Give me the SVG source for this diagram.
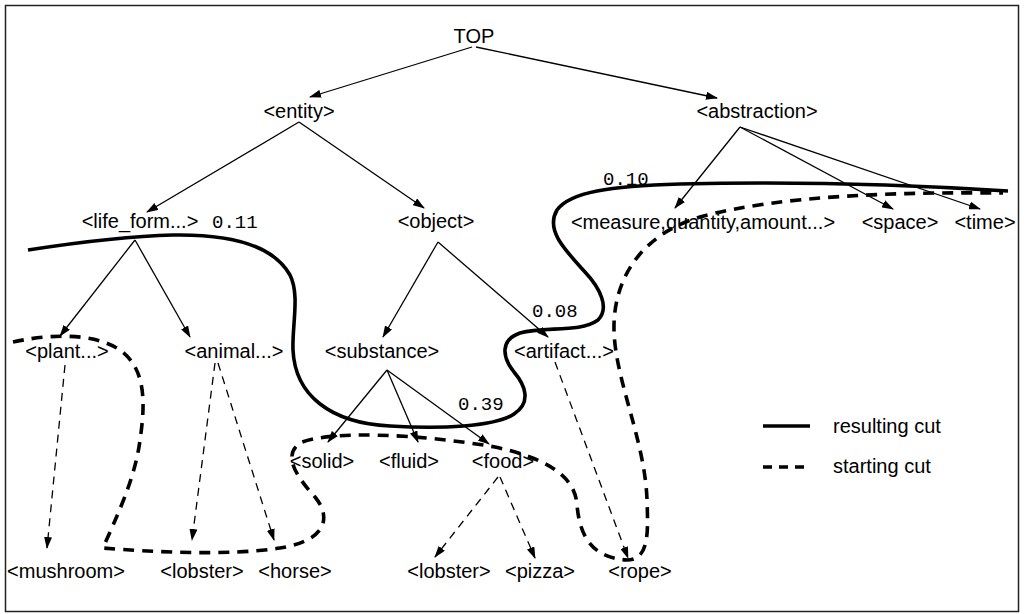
<svg xmlns="http://www.w3.org/2000/svg" width="1026" height="614" viewBox="0 0 1026 614">
<style>
.lbl{font-family:"Liberation Sans",Arial,sans-serif;font-size:20px;fill:#000;text-anchor:middle}
.num{font-family:"Liberation Mono","DejaVu Sans Mono",monospace;font-size:19px;fill:#000}
.edge{stroke:#000;stroke-width:1.3;fill:none;marker-end:url(#ah)}
.dedge{stroke:#000;stroke-width:1.3;fill:none;stroke-dasharray:8 6;marker-end:url(#ah)}
.cut{stroke:#000;stroke-width:3.6;fill:none;stroke-linecap:butt}
.start{stroke:#000;stroke-width:3.6;fill:none;stroke-dasharray:11 8}
</style>
<defs>
<marker id="ah" markerWidth="12" markerHeight="8" refX="11" refY="4" orient="auto" markerUnits="userSpaceOnUse">
<path d="M0,0 L12,4 L0,8 z" fill="#000"/>
</marker>
</defs>
<rect x="5.5" y="5.5" width="1013" height="606" fill="#fff" stroke="#222" stroke-width="1.5"/>
<g id="connectors">
<line class="edge" x1="472" y1="47" x2="310" y2="97"/>
<line class="edge" x1="476" y1="47" x2="717" y2="98"/>
<line class="edge" x1="299" y1="122" x2="147" y2="212"/>
<line class="edge" x1="299" y1="122" x2="424" y2="208"/>
<line class="edge" x1="740" y1="127" x2="675" y2="208"/>
<line class="edge" x1="740" y1="127" x2="893" y2="209"/>
<line class="edge" x1="740" y1="127" x2="980" y2="209"/>
<line class="edge" x1="135" y1="240" x2="60" y2="336"/>
<line class="edge" x1="135" y1="240" x2="190" y2="337"/>
<line class="edge" x1="438" y1="242" x2="383" y2="337"/>
<line class="edge" x1="438" y1="242" x2="548" y2="337"/>
<line class="edge" x1="387" y1="370" x2="328" y2="442"/>
<line class="edge" x1="387" y1="370" x2="418" y2="442"/>
<line class="edge" x1="387" y1="370" x2="489" y2="444"/>
<line class="dedge" x1="65" y1="365" x2="47" y2="548"/>
<line class="dedge" x1="215" y1="363" x2="192" y2="540"/>
<line class="dedge" x1="218" y1="363" x2="274" y2="540"/>
<line class="dedge" x1="498" y1="477" x2="435" y2="557"/>
<line class="dedge" x1="500" y1="477" x2="535" y2="558"/>
<line class="dedge" x1="555" y1="362" x2="628" y2="558"/>
<path id="resulting-cut" class="cut" d="M 28 250 C 80 242, 130 236, 173 235 C 230 234, 273 245, 290 275 C 300 295, 292 325, 293 350 C 295 395, 330 423, 390 426 C 440 429, 495 427, 514 414 C 532 402, 525 385, 514 372 C 502 357, 500 340, 520 333 C 545 326, 580 333, 598 320 C 610 308, 600 288, 585 272 C 565 250, 545 230, 557 210 C 570 192, 610 186, 680 184 C 800 181, 900 184, 1008 191"/>
<path id="starting-cut" class="start" d="M 13 342 C 40 336, 90 330, 120 350 C 145 368, 146 400, 140 440 C 135 480, 115 520, 103 548 C 150 552, 230 556, 280 548 C 330 540, 330 515, 315 497 C 295 475, 283 455, 300 443 C 330 430, 420 434, 495 447 C 545 458, 575 475, 577 505 C 580 540, 595 558, 627 560 C 650 560, 648 530, 647 500 C 645 440, 615 380, 614 330 C 613 280, 640 235, 700 217 C 780 195, 900 192, 1003 193"/>
</g>
<g id="n-top"><text class="lbl" x="474" y="43">TOP</text></g>
<g id="n-entity"><text class="lbl" x="299" y="118">&lt;entity&gt;</text></g>
<g id="n-abstraction"><text class="lbl" x="757" y="118">&lt;abstraction&gt;</text></g>
<g id="n-life_form"><text class="lbl" x="140" y="228">&lt;life_form...&gt;</text><text class="num" x="212" y="228">0.11</text></g>
<g id="n-object"><text class="lbl" x="436" y="228">&lt;object&gt;</text></g>
<g id="n-measure"><text class="lbl" x="703" y="229">&lt;measure,quantity,amount...&gt;</text></g>
<g id="n-space"><text class="lbl" x="900" y="229">&lt;space&gt;</text></g>
<g id="n-time"><text class="lbl" x="985" y="229">&lt;time&gt;</text></g>
<g id="w-010"><text class="num" x="603" y="185">0.10</text></g>
<g id="n-plant"><text class="lbl" x="67" y="358">&lt;plant...&gt;</text></g>
<g id="n-animal"><text class="lbl" x="234" y="358">&lt;animal...&gt;</text></g>
<g id="n-substance"><text class="lbl" x="382" y="358">&lt;substance&gt;</text></g>
<g id="n-artifact"><text class="lbl" x="564" y="358">&lt;artifact...&gt;</text></g>
<g id="w-008"><text class="num" x="532" y="317">0.08</text></g>
<g id="w-039"><text class="num" x="458" y="410">0.39</text></g>
<g id="n-solid"><text class="lbl" x="322" y="468">&lt;solid&gt;</text></g>
<g id="n-fluid"><text class="lbl" x="409" y="468">&lt;fluid&gt;</text></g>
<g id="n-food"><text class="lbl" x="503" y="468">&lt;food&gt;</text></g>
<g id="n-mushroom"><text class="lbl" x="66" y="578">&lt;mushroom&gt;</text></g>
<g id="n-lobster1"><text class="lbl" x="202" y="578">&lt;lobster&gt;</text></g>
<g id="n-horse"><text class="lbl" x="295" y="578">&lt;horse&gt;</text></g>
<g id="n-lobster2"><text class="lbl" x="449" y="578">&lt;lobster&gt;</text></g>
<g id="n-pizza"><text class="lbl" x="540" y="578">&lt;pizza&gt;</text></g>
<g id="n-rope"><text class="lbl" x="640" y="578">&lt;rope&gt;</text></g>
<g id="legend">
<line class="cut" x1="763" y1="426" x2="810" y2="426"/>
<line x1="763" y1="467" x2="810" y2="467" stroke="#000" stroke-width="3.6" stroke-dasharray="9 7"/>
<text class="lbl" x="833" y="433" style="text-anchor:start">resulting cut</text>
<text class="lbl" x="833" y="473" style="text-anchor:start">starting cut</text>
</g>
</svg>
